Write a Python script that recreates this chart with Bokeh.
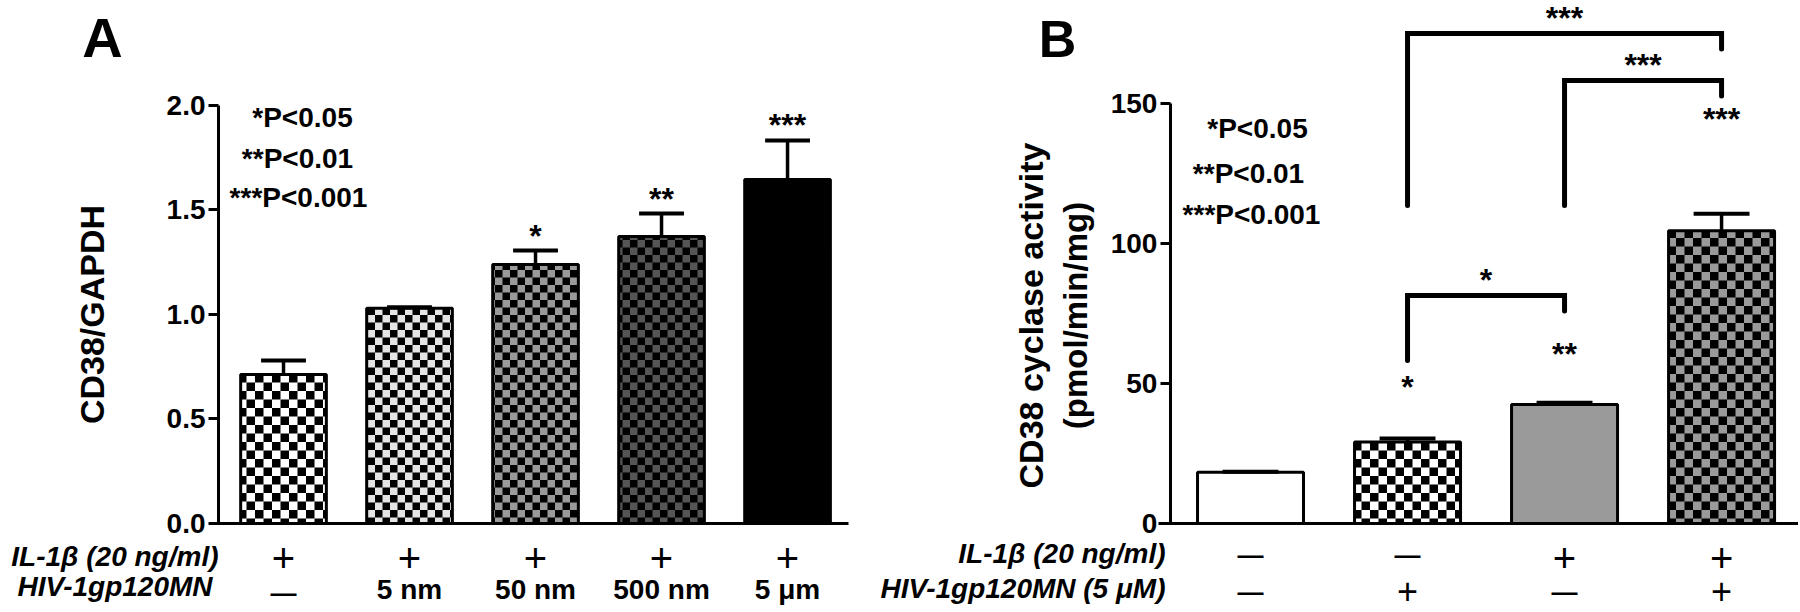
import math
import numpy as np
from bokeh.plotting import figure
from bokeh.models import (Range1d, FixedTicker, Label, LabelSet, ColumnDataSource,
                          CanvasTexture, NumeralTickFormatter)
from bokeh.layouts import row
from bokeh.embed import file_html
from bokeh.resources import INLINE
from bokeh.core.properties import value

FONT = "Liberation Sans"

# ---------------- data: panel A ----------------
a_il1b = ["+", "+", "+", "+", "+"]
a_gp120 = ["—", "5 nm", "50 nm", "500 nm", "5 μm"]
a_mean = [0.713, 1.03, 1.239, 1.373, 1.646]
a_sem = [0.067, 0.005, 0.067, 0.110, 0.187]
a_stars = ["", "", "*", "**", "***"]
a_yticks = [0.0, 0.5, 1.0, 1.5, 2.0]

# ---------------- data: panel B ----------------
b_il1b = ["—", "—", "+", "+"]
b_gp120 = ["—", "+", "—", "+"]
b_mean = [18.3, 29.1, 42.5, 104.6]
b_sem = [0.2, 1.3, 0.6, 6.0]
b_stars = ["", "*", "**", "***"]
b_yticks = [0, 50, 100, 150]
# pairwise comparisons (bar index left, bar index right, significance)
cmp_left = [1, 2, 1]
cmp_right = [3, 3, 2]
cmp_text = ["***", "***", "*"]

# ---------------- annotation placement (style) ----------------
cmp_level = [175.0, 158.2, 81.4]
cmp_left_end = [113.6, 113.6, 58.2]
cmp_drop = 5.5
b_star_y = [float("nan"), 50.4, 62.5, 146.4]

H = 610          # figure height (page pixels); page has no margin
BOTTOM = H       # page y of the figure bottom


def checker(tile):
    return CanvasTexture(code=f"""
const c = ctx.canvas;
c.width = {tile}; c.height = {tile};
const s = {tile} / 2;
ctx.setTransform(1, 0, 0, 1, 0, 0);
ctx.clearRect(0, 0, {tile}, {tile});
ctx.fillStyle = "#000000";
ctx.fillRect(0, 0, s, s);
ctx.fillRect(s, s, s, s);
""")


TEXTURES = {"chk17": checker(17), "chk15": checker(15)}


def style_axes(p, yticks, ybounds, yloc, xbounds):
    p.xgrid.visible = False
    p.ygrid.visible = False
    p.outline_line_color = None
    p.background_fill_color = "white"
    xa = p.xaxis[0]
    xa.fixed_location = 0
    xa.bounds = xbounds
    xa.ticker = FixedTicker(ticks=[])
    xa.axis_line_width = 3
    xa.axis_line_color = "black"
    xa.major_tick_line_color = None
    xa.minor_tick_line_color = None
    xa.major_label_text_font_size = "0px"
    ya = p.yaxis[0]
    ya.fixed_location = yloc
    ya.ticker = FixedTicker(ticks=yticks)
    ya.bounds = ybounds
    ya.axis_line_width = 3
    ya.axis_line_color = "black"
    ya.major_tick_line_width = 3
    ya.major_tick_line_color = "black"
    ya.major_tick_out = 10
    ya.major_tick_in = 0
    ya.minor_tick_line_color = None
    ya.major_label_text_font = FONT
    ya.major_label_text_font_style = "bold"
    ya.major_label_text_font_size = "28px"
    ya.major_label_text_color = "black"
    ya.major_label_standoff = 3


def lab(p, left, ix, iy, text, size, style="bold", align="center",
        baseline="alphabetic", angle=0.0):
    """Place a text at page coordinates (ix, iy); iy is the wanted baseline."""
    px = float(size.replace("px", ""))
    shift = 0.32 * px if baseline == "alphabetic" else 0.0
    p.add_layout(Label(x=ix - left, y=BOTTOM - (iy - shift), x_units="screen", y_units="screen",
                       text=text, text_font=FONT, text_font_size=size,
                       text_font_style=style, text_align=align,
                       text_baseline=baseline, angle=angle, text_color="black"))


def sign_row(p, labels, base_plus, base_dash, base_word, plus_size="40px"):
    groups = [
        ("+", plus_size, "normal", base_plus),
        ("—", "26px", "bold", base_dash),
        (None, "28px", "bold", base_word),
    ]
    for key, size, style, base in groups:
        sel = [i for i, t in enumerate(labels)
               if (t == key if key else t not in ("+", "—"))]
        if not sel:
            continue
        src = ColumnDataSource(dict(x=sel, t=[labels[i] for i in sel]))
        p.add_layout(LabelSet(x="x", y=BOTTOM - base, y_units="screen", text="t", source=src,
                              text_font=value(FONT), text_font_size=value(size),
                              text_font_style=value(style), text_align="center",
                              text_baseline="alphabetic", text_color="black"))


def error_bars(p, mean, sem, capw, lw):
    x = np.arange(len(mean))
    top = np.array(mean) + np.array(sem)
    p.segment(x0=x, y0=mean, x1=x, y1=top, line_color="black", line_width=lw)
    p.segment(x0=x - capw, y0=top, x1=x + capw, y1=top, line_color="black", line_width=lw + 0.5)


# ====================== Panel A ======================
LA = 0
WA = 860
pA = figure(width=WA, height=H, x_range=Range1d(-2.246, 4.579), y_range=Range1d(-0.4163, 2.5024),
            output_backend="svg", toolbar_location=None,
            min_border_left=0, min_border_right=0, min_border_top=0, min_border_bottom=0)
style_axes(pA, a_yticks, (0, 2.0), -0.516, (-0.579, 4.484))
pA.yaxis[0].formatter = NumeralTickFormatter(format="0.0")

srcA = ColumnDataSource(dict(
    x=list(range(len(a_mean))), top=a_mean,
    fill=["white", "#e4e4e4", "#9a9a9a", "#555555", "black"],
    hatch=["chk17", "chk15", "chk15", "chk15", " "],
))
pA.vbar(x="x", top="top", width=0.68, bottom=0, source=srcA, fill_color="fill",
        line_color="black", line_width=3, hatch_pattern="hatch",
        hatch_color="black", hatch_extra=TEXTURES)
error_bars(pA, a_mean, a_sem, 0.178, 3.5)
pA.text(x=list(range(len(a_mean))), y=list(np.array(a_mean) + np.array(a_sem)), text=a_stars,
        text_font=value(FONT), text_font_style="bold", text_font_size="32px",
        text_align="center", text_baseline="alphabetic", y_offset=-15, text_color="black")

lab(pA, LA, 102, 55, "A", "56px")
lab(pA, LA, 91, 314, "CD38/GAPDH", "34px", baseline="middle", angle=math.pi / 2)
lab(pA, LA, 302, 126, "*P<0.05", "28px")
lab(pA, LA, 297, 167, "**P<0.01", "28px")
lab(pA, LA, 298, 206, "***P<0.001", "28px")
lab(pA, LA, 218, 565, "IL-1β (20 ng/ml)", "28px", style="bold italic", align="right")
lab(pA, LA, 212, 595, "HIV-1gp120MN", "28px", style="bold italic", align="right")
sign_row(pA, a_il1b, 571, 601, 598)
sign_row(pA, a_gp120, 571, 601, 598)

# ====================== Panel B ======================
LB = WA
pB = figure(width=1798 - WA, height=H, x_range=Range1d(-2.484, 3.490), y_range=Range1d(-31.07, 186.79),
            output_backend="svg", toolbar_location=None,
            min_border_left=0, min_border_right=0, min_border_top=0, min_border_bottom=0)
style_axes(pB, b_yticks, (0, 150), -0.51, (-0.586, 3.49))

srcB = ColumnDataSource(dict(
    x=list(range(len(b_mean))), top=b_mean,
    fill=["white", "white", "#9a9a9a", "#9a9a9a"],
    hatch=[" ", "chk17", " ", "chk17"],
))
pB.vbar(x="x", top="top", width=0.675, bottom=0, source=srcB, fill_color="fill",
        line_color="black", line_width=3, hatch_pattern="hatch",
        hatch_color="black", hatch_extra=TEXTURES)
error_bars(pB, b_mean, b_sem, 0.178, 3.5)

pB.text(x=list(range(len(b_mean))), y=b_star_y, text=b_stars,
        text_font=value(FONT), text_font_style="bold", text_font_size="32px",
        text_align="center", text_baseline="alphabetic", y_offset=5, text_color="black")

xs, ys, mx = [], [], []
for l, r, lv, le in zip(cmp_left, cmp_right, cmp_level, cmp_left_end):
    xs.append([l, l, r, r])
    ys.append([le, lv, lv, lv - cmp_drop])
    mx.append((l + r) / 2)
pB.multi_line(xs=xs, ys=ys, line_color="black", line_width=5, line_join="miter", line_cap="round")
pB.text(x=mx, y=cmp_level, text=cmp_text, text_font=value(FONT), text_font_style="bold",
        text_font_size="32px", text_align="center", text_baseline="alphabetic",
        y_offset=-16, text_color="black")

lab(pB, LB, 1057, 55, "B", "52px")
lab(pB, LB, 1030, 315, "CD38 cyclase activity", "34px", baseline="middle", angle=math.pi / 2)
lab(pB, LB, 1075, 315, "(pmol/min/mg)", "33px", baseline="middle", angle=math.pi / 2)
lab(pB, LB, 1257, 137, "*P<0.05", "28px")
lab(pB, LB, 1248, 182, "**P<0.01", "28px")
lab(pB, LB, 1251, 223, "***P<0.001", "28px")
lab(pB, LB, 1165, 562, "IL-1β (20 ng/ml)", "28px", style="bold italic", align="right")
lab(pB, LB, 1165, 597, "HIV-1gp120MN (5 μM)", "28px", style="bold italic", align="right")
sign_row(pB, b_il1b, 571, 563, 563)
sign_row(pB, b_gp120, 603, 600, 600, plus_size="36px")

layout = row(pA, pB)
open("out.html", "w").write(file_html(layout, INLINE))
